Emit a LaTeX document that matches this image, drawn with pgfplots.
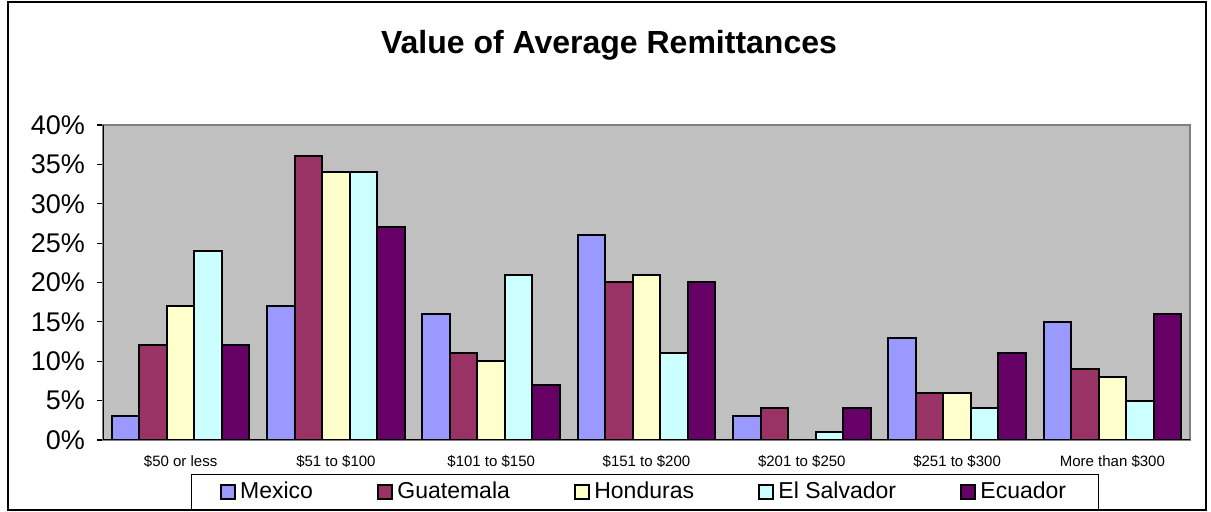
\documentclass[border=0pt]{standalone}
\usepackage{pgfplots}
\pgfplotsset{compat=1.18}
\usepackage{fontspec}
\setmainfont{Liberation Sans}
\definecolor{cMex}{HTML}{9999FF}
\definecolor{cGua}{HTML}{993366}
\definecolor{cHon}{HTML}{FFFFCC}
\definecolor{cSal}{HTML}{CCFFFF}
\definecolor{cEcu}{HTML}{660066}
\definecolor{plotbg}{HTML}{C0C0C0}
\begin{document}
\begin{tikzpicture}[x=0.5pt,y=0.5pt]
\useasboundingbox (0,0) rectangle (1211,512);
\draw[black, line width=0.6pt] (8,2) rectangle (1206,510);
\node[font=\fontsize{16}{19}\selectfont\bfseries] at (609,467) {Value of Average Remittances};
\begin{axis}[
  at={(51.5pt,36pt)}, anchor=south west,
  scale only axis, width=543.5pt, height=157.5pt,
  ybar=0pt, bar width=13.75pt,
  xmin=-0.5, xmax=6.5, ymin=0, ymax=40,
  xtick={0,...,6},
  xticklabels={\$50 or less,\$51 to \$100,\$101 to \$150,\$151 to \$200,\$201 to \$250,\$251 to \$300,More than \$300},
  x tick label style={font=\fontsize{7.5}{9}\selectfont, yshift=-1pt},
  xtick style={draw=none},
  ytick={0,5,...,40}, ytick pos=left,
  yticklabel={\pgfmathprintnumber{\tick}\%},
  /pgf/number format/assume math mode=true,
  y tick label style={font=\fontsize{13.5}{16}\selectfont, xshift=-2.5pt},
  ytick style={black, line width=0.6pt},
  tick align=outside, major tick length=3pt,
  axis background/.style={fill=plotbg},
  axis line style={draw=gray, line width=0.6pt},
  every axis plot/.append style={draw=black, line width=1pt},
  legend style={at={(0.4986,-0.165)}, anchor=center, legend columns=5,
    draw=black, line width=0.5pt, font=\fontsize{11.5}{14}\selectfont,
    inner ysep=2pt, inner xsep=14pt,
    /tikz/every even column/.append style={column sep=30pt}},
  legend image code/.code={\draw[#1, line width=1pt] (0pt,-3.6pt) rectangle (7.2pt,3.6pt);},
]
\addplot[fill=cMex] coordinates {(0,3) (1,17) (2,16) (3,26) (4,3) (5,13) (6,15)};
\addplot[fill=cGua] coordinates {(0,12) (1,36) (2,11) (3,20) (4,4) (5,6) (6,9)};
\addplot[fill=cHon] coordinates {(0,17) (1,34) (2,10) (3,21) (4,0) (5,6) (6,8)};
\addplot[fill=cSal] coordinates {(0,24) (1,34) (2,21) (3,11) (4,1) (5,4) (6,5)};
\addplot[fill=cEcu] coordinates {(0,12) (1,27) (2,7) (3,20) (4,4) (5,11) (6,16)};
\legend{Mexico,Guatemala,Honduras,El Salvador,Ecuador}
\draw[black, line width=0.8pt] (rel axis cs:0,0) -- (rel axis cs:0,1);
\draw[black, line width=0.8pt] (rel axis cs:0,0) -- (rel axis cs:1,0);
\end{axis}
\end{tikzpicture}
\end{document}
